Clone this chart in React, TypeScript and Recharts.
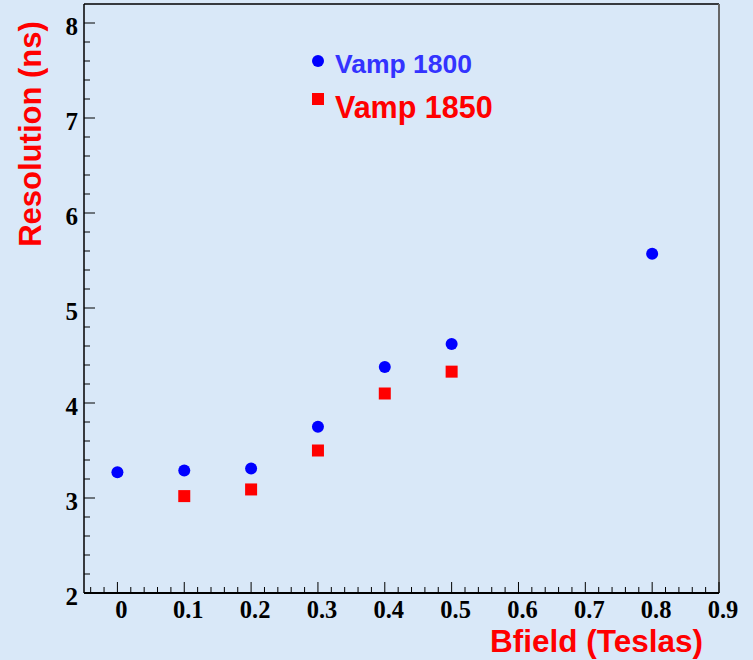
import {
  ScatterChart,
  Scatter,
  XAxis,
  YAxis,
  ReferenceLine,
} from "recharts";

// values
const bField1800 = [0, 0.1, 0.2, 0.3, 0.4, 0.5, 0.8];
const res1800 = [3.27, 3.29, 3.31, 3.75, 4.38, 4.62, 5.57];
const bField1850 = [0.1, 0.2, 0.3, 0.4, 0.5];
const res1850 = [3.02, 3.09, 3.5, 4.1, 4.33];

const xMajorTicks = [0, 0.1, 0.2, 0.3, 0.4, 0.5, 0.6, 0.7, 0.8, 0.9];
const yMajorTicks = [2, 3, 4, 5, 6, 7, 8];

const seriesNames = ["Vamp 1800", "Vamp 1850"];

const data1800 = bField1800.map((b, i) => ({ b, res: res1800[i] }));
const data1850 = bField1850.map((b, i) => ({ b, res: res1850[i] }));

// minor ticks: 5 subdivisions between majors
const xTicks: number[] = [];
for (let i = -2; i <= 45; i++) xTicks.push(Math.round(i * 2) / 100);
const yTicks: number[] = [];
for (let i = 10; i <= 40; i++) yTicks.push(Math.round(i * 2) / 10);

const W = 753;
const H = 660;
const PLOT_LEFT = 84;
const PLOT_BOTTOM = 593;
const BG = "#d9e8f8";
const SERIF = "'Liberation Serif', 'Times New Roman', serif";
const SANS = "'Liberation Sans', Arial, sans-serif";

const isMajor = (v: number, majors: number[]) =>
  majors.some((m) => Math.abs(m - v) < 1e-6);

function YTick(props: any) {
  const { y, payload } = props;
  const major = isMajor(payload.value, yMajorTicks);
  return (
    <g>
      <line
        x1={PLOT_LEFT}
        x2={PLOT_LEFT + (major ? 11 : 6)}
        y1={y}
        y2={y}
        stroke="#000"
        strokeWidth={1}
      />
      {major && (
        <text
          x={78}
          y={y + 12}
          textAnchor="end"
          fontFamily={SERIF}
          fontWeight="bold"
          fontSize={25}
          fill="#000"
        >
          {payload.value}
        </text>
      )}
    </g>
  );
}

function XTick(props: any) {
  const { x, payload } = props;
  const major = isMajor(payload.value, xMajorTicks);
  return (
    <g>
      <line
        x1={x}
        x2={x}
        y1={PLOT_BOTTOM}
        y2={PLOT_BOTTOM - (major ? 11 : 6)}
        stroke="#000"
        strokeWidth={1}
      />
      {major && (
        <text
          x={x + 4}
          y={618}
          textAnchor="middle"
          fontFamily={SERIF}
          fontWeight="bold"
          fontSize={24.5}
          fill="#000"
        >
          {payload.value}
        </text>
      )}
    </g>
  );
}

const BlueDot = (p: any) => (
  <circle cx={p.cx} cy={p.cy} r={6} fill="#0000ff" />
);
const RedSquare = (p: any) => (
  <rect x={p.cx - 6} y={p.cy - 6} width={12} height={12} fill="#ff0000" />
);

export default function App() {
  return (
    <div
      style={{
        position: "fixed",
        left: 0,
        top: 0,
        width: W,
        height: H,
        background: BG,
        overflow: "hidden",
      }}
    >
      <ScatterChart
        width={W}
        height={H}
        margin={{ top: 4, right: 34, left: 0, bottom: 0 }}
      >
        <XAxis
          type="number"
          dataKey="b"
          domain={[-0.05, 0.9]}
          ticks={xTicks}
          interval={0}
          height={67}
          allowDataOverflow
          axisLine={{ stroke: "#000", strokeWidth: 2 }}
          tickLine={false}
          tick={<XTick />}
          label={{
            content: () => (
              <text
                x={703}
                y={652}
                textAnchor="end"
                fontFamily={SANS}
                fontWeight="bold"
                fontSize={31.5}
                fill="#ff0000"
              >
                Bfield (Teslas)
              </text>
            ),
          }}
        />
        <YAxis
          type="number"
          dataKey="res"
          domain={[2, 8.2]}
          ticks={yTicks}
          interval={0}
          width={84}
          allowDataOverflow
          axisLine={{ stroke: "#000", strokeWidth: 1.5 }}
          tickLine={false}
          tick={<YTick />}
          label={{
            content: () => (
              <text
                x={41}
                y={134}
                transform="rotate(-90 41 134)"
                textAnchor="middle"
                fontFamily={SANS}
                fontWeight="bold"
                fontSize={31}
                fill="#ff0000"
              >
                Resolution (ns)
              </text>
            ),
          }}
        />
        <ReferenceLine y={8.2} stroke="#000" strokeWidth={1.5} />
        <ReferenceLine x={0.9} stroke="#666" strokeWidth={2} />
        <Scatter
          name={seriesNames[0]}
          data={data1800}
          shape={BlueDot}
          isAnimationActive={false}
        />
        <Scatter
          name={seriesNames[1]}
          data={data1850}
          shape={RedSquare}
          isAnimationActive={false}
        />
      </ScatterChart>
      <svg
        width={W}
        height={H}
        style={{ position: "absolute", left: 0, top: 0, pointerEvents: "none" }}
      >
        <circle cx={318} cy={61} r={6} fill="#0000ff" />
        <text
          x={335}
          y={73}
          fontFamily={SANS}
          fontWeight="bold"
          fontSize={26.5}
          fill="#3333ff"
        >
          {seriesNames[0]}
        </text>
        <rect x={312} y={93} width={12} height={12} fill="#ff0000" />
        <text
          x={335}
          y={118}
          fontFamily={SANS}
          fontWeight="bold"
          fontSize={30.5}
          fill="#ff0000"
        >
          {seriesNames[1]}
        </text>
      </svg>
    </div>
  );
}
